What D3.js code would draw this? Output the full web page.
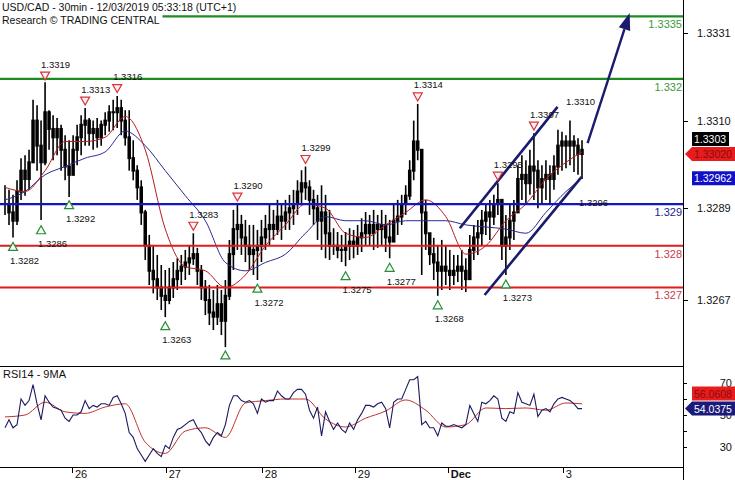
<!DOCTYPE html>
<html><head><meta charset="utf-8">
<script src="https://cdn.jsdelivr.net/npm/d3@7/dist/d3.min.js"></script>
<style>
html,body{margin:0;padding:0;background:#fff;}
svg{display:block;}
text{font-family:"Liberation Sans",Arial,sans-serif;}
</style></head><body>
<svg id="chart" width="735" height="480"></svg>
<script>
// ---------------- data ----------------
const highs=[1.32945,1.32934,1.32922,1.32957,1.3301,1.33017,1.3303,1.3315,1.33137,1.3310,
 1.33192,1.33125,1.33113,1.33106,1.3309,1.33065,1.33053,1.33065,1.3309,1.33113,
 1.3313,1.33106,1.3310,1.33106,1.3310,1.3312,1.33137,1.3315,1.33159,1.3315,
 1.33125,1.33125,1.33053,1.32993,1.32957,1.32886,1.32826,1.32802,1.32778,1.32754,
 1.32742,1.32747,1.32761,1.3277,1.32778,1.3279,1.32802,1.3283,1.32795,1.32754,
 1.32718,1.32706,1.32694,1.32706,1.32694,1.32718,1.32814,1.32886,1.3290,1.32874,
 1.32862,1.3285,1.3285,1.32838,1.32862,1.32874,1.32898,1.32886,1.3291,1.32898,
 1.3291,1.32922,1.32934,1.32957,1.32981,1.3299,1.32957,1.32934,1.32922,1.32945,
 1.32922,1.32886,1.32842,1.32833,1.32826,1.32833,1.32842,1.32838,1.3285,1.32866,
 1.32881,1.32874,1.32886,1.32874,1.32886,1.32874,1.32862,1.32898,1.3291,1.32922,
 1.32945,1.33005,1.3310,1.3314,1.33005,1.3291,1.32826,1.32819,1.32802,1.32814,
 1.32802,1.3279,1.32778,1.32778,1.3279,1.3277,1.32826,1.3285,1.32862,1.32886,
 1.32898,1.3291,1.32922,1.3295,1.32886,1.32874,1.32898,1.3291,1.32993,1.33017,
 1.33005,1.3303,1.3307,1.33005,1.32993,1.33005,1.32993,1.33017,1.33078,1.33073,
 1.33065,1.3310,1.33065,1.33058,1.33053];
const lows=[1.32874,1.3285,1.3282,1.3285,1.3291,1.3292,1.32934,1.33005,1.3298,1.32862,
 1.32993,1.3303,1.33005,1.33017,1.3298,1.32957,1.32917,1.3297,1.32993,1.33017,
 1.3304,1.3304,1.3303,1.33035,1.3304,1.33065,1.33073,1.33077,1.33082,1.33065,
 1.3304,1.3298,1.32957,1.3291,1.3285,1.32766,1.32706,1.32686,1.3267,1.32646,
 1.32629,1.3266,1.32675,1.32694,1.32706,1.32718,1.3273,1.32754,1.32706,1.3267,
 1.32634,1.3261,1.32598,1.3261,1.32586,1.32557,1.3267,1.32742,1.3279,1.32778,
 1.32761,1.32742,1.3273,1.32718,1.32761,1.3279,1.32802,1.32814,1.32826,1.32814,
 1.32838,1.32838,1.3285,1.32874,1.32898,1.3291,1.32874,1.3285,1.32814,1.3279,
 1.3277,1.32766,1.32778,1.3277,1.32761,1.32751,1.32766,1.3277,1.32778,1.32785,
 1.32802,1.32802,1.3279,1.32795,1.32802,1.32785,1.3277,1.32814,1.32826,1.3285,
 1.32874,1.3291,1.32957,1.33005,1.3273,1.3279,1.32754,1.32718,1.3268,1.32694,
 1.32706,1.32694,1.32706,1.32713,1.32694,1.32689,1.32718,1.32766,1.32778,1.32802,
 1.32826,1.32814,1.3285,1.32874,1.32766,1.3273,1.3279,1.32814,1.32886,1.3291,
 1.32898,1.32922,1.3291,1.3289,1.32898,1.3291,1.3290,1.32934,1.3297,1.3298,
 1.32986,1.32993,1.32977,1.3297,1.3296];
const closes=[1.3290,1.3288,1.3286,1.3293,1.3298,1.3296,1.3300,1.3310,1.3304,1.3300,
 1.3312,1.3308,1.3306,1.3308,1.3303,1.3299,1.3297,1.3303,1.3306,1.3309,
 1.3310,1.3307,1.3308,1.3306,1.3309,1.3310,1.3312,1.3312,1.3313,1.3310,
 1.3306,1.3301,1.3298,1.3294,1.3288,1.3280,1.3274,1.3272,1.3270,1.3268,
 1.3267,1.3270,1.3272,1.3274,1.3275,1.3276,1.3277,1.3278,1.3274,1.3270,
 1.3267,1.3264,1.3263,1.3266,1.3262,1.3268,1.3278,1.3284,1.3285,1.3282,
 1.3280,1.3278,1.3279,1.3280,1.3282,1.3284,1.3285,1.3284,1.3287,1.3286,
 1.3288,1.3289,1.3290,1.3293,1.3295,1.3294,1.3291,1.3289,1.3286,1.3288,
 1.3283,1.3280,1.3280,1.3279,1.3279,1.3280,1.3281,1.3280,1.3282,1.3283,
 1.3285,1.3283,1.3285,1.3284,1.3285,1.3282,1.3281,1.3286,1.3287,1.3290,
 1.3292,1.3298,1.3305,1.3303,1.3288,1.3283,1.3278,1.3276,1.3274,1.3275,
 1.3274,1.3273,1.3274,1.3275,1.3274,1.3272,1.3279,1.3282,1.3283,1.3286,
 1.3288,1.3287,1.3290,1.3291,1.3280,1.3282,1.3286,1.3288,1.3296,1.3297,
 1.3295,1.3299,1.3298,1.3294,1.3296,1.3297,1.3296,1.3299,1.3304,1.3305,
 1.3304,1.3305,1.3304,1.3302,1.3303];

const maIndex=[0,5,10,15,20,25,30,35,40,45,50,55,60,65,70,75,80,85,90,95,100,105,110,115,120,125,130,135,140,144];
const maFast=[1.3294,1.3293,1.3298,1.3305,1.3305,1.3306,1.3311,1.3303,1.3284,1.3275,1.3274,1.3270,1.3273,1.3280,1.3285,
 1.3290,1.3289,1.3283,1.3282,1.3285,1.3288,1.3291,1.3287,1.3278,1.3280,1.3286,1.3290,1.3296,1.3300,1.33025];
const maSlow=[1.3291,1.3293,1.3297,1.3299,1.3301,1.33025,1.33075,1.3304,1.3298,1.3292,1.3286,1.3276,1.3274,1.3276,1.3278,
 1.3283,1.3287,1.3286,1.3286,1.3285,1.3286,1.3286,1.3286,1.3285,1.32845,1.3284,1.3283,1.3288,1.3293,1.32962];

const rsi=[42,47,42,44,60,56,59,69,57,47,
 62,58,55,54,53,48,46,50,50,52,
 59,54,56,55,57,57,56,61,62,57,
 51,39,36,29,25,21,25,29,26,24,
 31,29,36,41,42,44,46,47,42,39,
 34,31,36,39,37,44,56,62,62,59,
 58,59,57,51,60,58,59,59,65,62,
 60,60,64,66,66,63,53,48,55,37,
 52,46,41,45,41,39,45,41,47,51,
 56,56,55,57,58,54,42,58,60,60,
 66,72,72,74,44,46,42,42,37,45,
 43,43,44,43,42,44,56,51,46,58,
 57,59,62,60,48,46,52,51,64,58,
 57,56,63,49,53,54,52,57,60,61,
 60,59,57,54,54];
const rsiMA=[48.8,50,58,52,51,55,57,33,26,40,42,36,57.5,59,60,60,47.5,42.5,48,52.5,59.4,53,42.5,44,54.4,54,54.4,53,57.5,57];

const levelValues=[1.3335,1.332,1.329,1.328,1.327];
const levelLabels=["1.3335","1.332","1.329","1.328","1.327"];

const peakIndex=[10,20,28,47,58,75,103,123,132,141];
const peakValues=[1.3319,1.3313,1.3316,1.3283,1.3290,1.3299,1.3314,1.3295,1.3307,1.3310];
const peakLabels=["1.3319","1.3313","1.3316","1.3283","1.3290","1.3299","1.3314","1.3295","1.3307","1.3310"];
const peakMarked=[true,true,true,true,true,true,true,true,true,false];
const troughIndex=[2,9,16,40,55,63,85,96,108,125,144];
const troughValues=[1.3282,1.3286,1.3292,1.3263,1.3256,1.3272,1.3275,1.3277,1.3268,1.3273,1.3296];
const troughLabels=["1.3282","1.3286","1.3292","1.3263","1.3256","1.3272","1.3275","1.3277","1.3268","1.3273","1.3296"];
const troughMarked=[true,true,true,true,true,true,true,true,true,true,false];

const channelUpper=[[113.5,1.32842],[137.9,1.33133]];
const channelLower=[[119.7,1.32682],[143.9,1.32965]];
const targetArrow=[[145.4,1.33046],[155.9,1.33358]];

const priceTicks=[1.3331,1.3310,1.3289,1.3267];
const rsiTicks=[30,40,50,60,70];
const rsiTickLabels=[30,50,70];
const dayIndex=[16.7,40.1,64.1,87.3,110.5,139.2];
const dayLabels=["26","27","28","29","Dec","3"];

const lastClose=1.3303, lastFast=1.33020, lastSlow=1.32962, lastRsi=54.0375, lastRsiMA=56.0608;
const titleLine1="USD/CAD - 30min - 12/03/2019 05:33:18 (UTC+1)";
const titleLine2="Research \u00A9 TRADING CENTRAL";
const rsiTitle="RSI14 - 9MA";

// ---------------- layout ----------------
const svg=d3.select("#chart");
const axisX=683, mainBottom=366, rsiTop=366, rsiBottom=467;
const x=d3.scaleLinear().domain([0,144]).range([5,582]);
const y=d3.scaleLinear().domain([1.3267,1.3331]).range([300,33]);
const yr=d3.scaleLinear().domain([30,70]).range([447,383]);

const defs=svg.append("defs");
defs.append("clipPath").attr("id","mainClip").append("rect").attr("x",0).attr("y",0).attr("width",axisX).attr("height",mainBottom-1);
defs.append("clipPath").attr("id","rsiClip").append("rect").attr("x",0).attr("y",rsiTop+1).attr("width",axisX).attr("height",rsiBottom-rsiTop-1);

const main=svg.append("g").attr("clip-path","url(#mainClip)");

// bars
const bars=main.append("g");
highs.forEach((h,i)=>{
  const o=i>0?closes[i-1]:closes[0], c=closes[i];
  bars.append("line").attr("x1",x(i)).attr("x2",x(i)).attr("y1",y(h)).attr("y2",y(lows[i]))
    .attr("stroke","#000").attr("stroke-width",1.6);
  const t=y(Math.max(o,c)), b=y(Math.min(o,c));
  bars.append("rect").attr("x",x(i)-1.75).attr("width",3.5).attr("y",t-1).attr("height",Math.max(2,b-t+2)).attr("fill","#000");
});

// moving averages
const maLine=d3.line().x((d,k)=>x(maIndex[k])).y(d=>y(d)).curve(d3.curveMonotoneX);
main.append("path").datum(maSlow).attr("d",maLine).attr("fill","none").attr("stroke","#2a2a90").attr("stroke-width",1);
main.append("path").datum(maFast).attr("d",maLine).attr("fill","none").attr("stroke","#b51c1c").attr("stroke-width",1);

// level lines
const levelColors=["#1e8a22","#1e8a22","#1414c4","#e01c1c","#e01c1c"];
const levelTextColors=["#3a9a3a","#3a9a3a","#1c1c8c","#c8404a","#c8404a"];
levelValues.forEach((v,k)=>{
  main.append("line").attr("x1",0).attr("x2",axisX).attr("y1",y(v)).attr("y2",y(v))
    .attr("stroke",levelColors[k]).attr("stroke-width",2.2);
  main.append("text").attr("x",axisX-1).attr("y",y(v)+12).attr("text-anchor","end")
    .attr("font-size",11).attr("fill",levelTextColors[k]).text(levelLabels[k]);
});

// channel and arrow
const seg=d3.line().x(d=>x(d[0])).y(d=>y(d[1]));
[channelUpper,channelLower].forEach(c=>{
  main.append("path").attr("d",seg(c)).attr("stroke","#1b1b6e").attr("stroke-width",2.6).attr("fill","none");
});
{
  const p0=[x(targetArrow[0][0]),y(targetArrow[0][1])], p1=[x(targetArrow[1][0]),y(targetArrow[1][1])];
  const ang=Math.atan2(p1[1]-p0[1],p1[0]-p0[0]);
  const L=17,Wd=6;
  const bx=p1[0]-L*Math.cos(ang), by=p1[1]-L*Math.sin(ang);
  main.append("line").attr("x1",p0[0]).attr("y1",p0[1]).attr("x2",bx).attr("y2",by).attr("stroke","#1b1b6e").attr("stroke-width",2.4);
  const px=-Math.sin(ang), py=Math.cos(ang);
  main.append("path").attr("d",`M${p1[0]},${p1[1]}L${bx+px*Wd},${by+py*Wd}L${bx-px*Wd},${by-py*Wd}Z`).attr("fill","#1b1b6e");
}

// peak / trough markers
peakIndex.forEach((i,k)=>{
  const cx=x(i), yv=y(peakValues[k]);
  if(peakMarked[k]) main.append("path").attr("d",`M${cx-4.5},${yv-11}L${cx+4.5},${yv-11}L${cx},${yv-3}Z`)
    .attr("fill","#fff2f2").attr("stroke","#d8343a").attr("stroke-width",1.2);
  main.append("text").attr("x",cx-4).attr("y",yv-15.5).attr("font-size",9.5).attr("fill","#111").text(peakLabels[k]);
});
troughIndex.forEach((i,k)=>{
  const cx=x(i), yv=y(troughValues[k]);
  if(troughMarked[k]) main.append("path").attr("d",`M${cx-4.5},${yv+13}L${cx+4.5},${yv+13}L${cx},${yv+5}Z`)
    .attr("fill","#f2fff2").attr("stroke","#2e8a3c").attr("stroke-width",1.2);
  main.append("text").attr("x",cx-3).attr("y",yv+26.5).attr("font-size",9.5).attr("fill","#111").text(troughLabels[k]);
});

// title with white background
const tg=svg.append("g");
const bg=tg.append("rect").attr("fill","#fff");
const t1=tg.append("text").attr("x",2).attr("y",11).attr("font-size",10.5).attr("fill","#111").text(titleLine1);
const t2=tg.append("text").attr("x",2).attr("y",24).attr("font-size",10.5).attr("fill","#111").text(titleLine2);
bg.attr("x",0).attr("y",0).attr("width",t2.node().getComputedTextLength()+5).attr("height",27);

// RSI panel
svg.append("line").attr("x1",0).attr("x2",axisX).attr("y1",rsiTop+0.5).attr("y2",rsiTop+0.5).attr("stroke","#000");
svg.append("line").attr("x1",0).attr("x2",axisX).attr("y1",rsiBottom+0.5).attr("y2",rsiBottom+0.5).attr("stroke","#000");
const rg=svg.append("g").attr("clip-path","url(#rsiClip)");
rg.append("path").datum(rsiMA).attr("d",d3.line().x((d,k)=>x(maIndex[k])).y(d=>yr(d)).curve(d3.curveMonotoneX))
  .attr("fill","none").attr("stroke","#c0342c").attr("stroke-width",1);
rg.append("path").datum(rsi).attr("d",d3.line().x((d,i)=>x(i)).y(d=>yr(d)))
  .attr("fill","none").attr("stroke","#1a1a5e").attr("stroke-width",1.1);
svg.append("text").attr("x",3).attr("y",378).attr("font-size",11).attr("fill","#111").text(rsiTitle);

// right axis
svg.append("line").attr("x1",axisX+0.5).attr("x2",axisX+0.5).attr("y1",0).attr("y2",480).attr("stroke","#000");
priceTicks.forEach(v=>{
  svg.append("line").attr("x1",axisX).attr("x2",axisX+5).attr("y1",Math.round(y(v))+0.5).attr("y2",Math.round(y(v))+0.5).attr("stroke","#000");
  svg.append("text").attr("x",697).attr("y",y(v)+4).attr("font-size",11).attr("fill","#111").text(d3.format(".4f")(v));
});
rsiTicks.forEach(v=>{
  svg.append("line").attr("x1",axisX).attr("x2",axisX+4).attr("y1",Math.round(yr(v))+0.5).attr("y2",Math.round(yr(v))+0.5).attr("stroke","#000");
});
rsiTickLabels.forEach(v=>{
  svg.append("text").attr("x",732).attr("y",yr(v)+4).attr("text-anchor","end").attr("font-size",11).attr("fill","#111").text(v);
});

// bottom day axis
dayIndex.forEach((d,k)=>{
  svg.append("line").attr("x1",Math.round(x(d))+0.5).attr("x2",Math.round(x(d))+0.5).attr("y1",rsiBottom).attr("y2",rsiBottom+6).attr("stroke","#000");
  svg.append("text").attr("x",x(d)+3).attr("y",478).attr("font-size",11).attr("fill","#111")
    .attr("font-weight",dayLabels[k]==="Dec"?"bold":"normal").text(dayLabels[k]);
});

// value tags
function tag(yc,txt,bgc,fg,arrow,right){
  const l=692, r=right||735, h=7;
  const d=arrow?`M${axisX+2},${yc}L${l},${yc-h}L${r},${yc-h}L${r},${yc+h}L${l},${yc+h}Z`
               :`M${l},${yc-h}L${r},${yc-h}L${r},${yc+h}L${l},${yc+h}Z`;
  svg.append("path").attr("d",d).attr("fill",bgc);
  svg.append("text").attr("x",l+2).attr("y",yc+4).attr("font-size",10.5).attr("fill",fg).text(txt);
}
const yFast=y(lastFast), yClose=Math.min(y(lastClose),yFast-15);
tag(yFast,d3.format(".5f")(lastFast),"#e81c1c","#8a0c0c",true);
tag(yClose,d3.format(".4f")(lastClose),"#000","#fff",false,729);
tag(y(lastSlow),d3.format(".5f")(lastSlow),"#1010c8","#fff",false);
const yR=yr(lastRsi), yRM=Math.min(yr(lastRsiMA),yR-15);
tag(yR,d3.format(".4f")(lastRsi),"#1a1a7a","#fff",true);
tag(yRM,d3.format(".4f")(lastRsiMA),"#e81c1c","#8a0c0c",false);
</script></body></html>
